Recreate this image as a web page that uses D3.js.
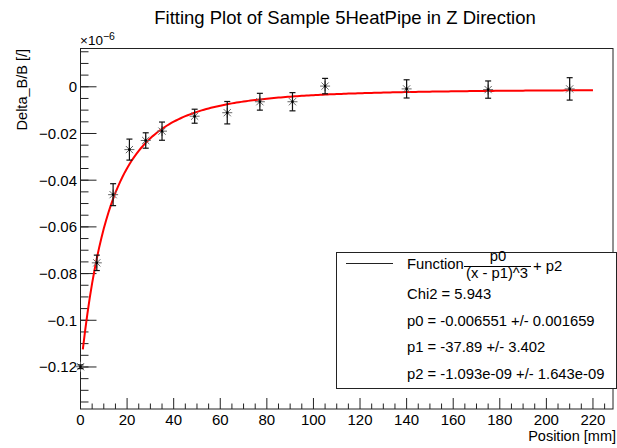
<!DOCTYPE html>
<html>
<head>
<meta charset="utf-8">
<script src="https://cdn.jsdelivr.net/npm/d3@7"></script>
<style>
  html, body { margin: 0; padding: 0; background: #fff; }
  text { font-family: "Liberation Sans", Arial, Helvetica, sans-serif; }
</style>
</head>
<body>
<div id="container"></div>
<script>
const width = 617, height = 448;

// Measurements: position (mm) and Delta_B/B (×10⁻⁶) with errors
const positions = [0, 7, 14, 21, 28, 35, 49, 63, 77, 91, 105, 140, 175, 210];
const values = [-0.1199, -0.0754, -0.0462, -0.0269, -0.0230, -0.0190, -0.0126, -0.0111,
                -0.0064, -0.0064, 0.0003, -0.0009, -0.0012, -0.0009];
const errors = [0.0008, 0.0033, 0.0047, 0.0045, 0.0033, 0.0039, 0.0030, 0.0048,
                0.0036, 0.0039, 0.0033, 0.0039, 0.0037, 0.0048];

// Fit parameters shown in the legend (raw units; plotted ×10⁶)
const p0 = -0.006551, p1 = -37.89, p2 = -1.093e-09;
const fitRange = [1, 220];
const legendLines = [
  "Chi2 = 5.943",
  "p0 = -0.006551 +/- 0.001659",
  "p1 = -37.89 +/- 3.402",
  "p2 = -1.093e-09 +/- 1.643e-09",
];

const xMajor = d3.range(0, 221, 20);
const xMinor = d3.range(0, 229, 5);
const yMajor = [-0.12, -0.1, -0.08, -0.06, -0.04, -0.02, 0];
const yMinor = d3.range(-0.135, 0.016, 0.005);

const frame = { left: 80.5, right: 613, top: 48.5, bottom: 409 };

const svg = d3.select("#container")
  .append("svg")
  .attr("width", width)
  .attr("height", height);

svg.append("rect").attr("width", width).attr("height", height).attr("fill", "#fff");

const xScale = d3.scaleLinear().domain([0, 228.6]).range([frame.left, frame.right]);
const yScale = d3.scaleLinear().domain([-0.138, 0.0164]).range([frame.bottom, frame.top]);

// Frame
svg.append("rect")
  .attr("x", frame.left).attr("y", frame.top)
  .attr("width", frame.right - frame.left)
  .attr("height", frame.bottom - frame.top)
  .attr("fill", "none")
  .attr("stroke", "#222")
  .attr("stroke-width", 1);

// X ticks (bottom only, pointing up)
xMinor.forEach(v => {
  const major = v % 20 === 0;
  svg.append("line")
    .attr("x1", xScale(v)).attr("x2", xScale(v))
    .attr("y1", frame.bottom).attr("y2", frame.bottom - (major ? 11 : 5.5))
    .attr("stroke", "#222");
});
xMajor.forEach(v => {
  svg.append("text")
    .attr("x", xScale(v)).attr("y", 425)
    .attr("text-anchor", "middle")
    .style("font-size", "15px")
    .text(v);
});

// Y ticks (left only, pointing right)
yMinor.forEach(v => {
  svg.append("line")
    .attr("x1", frame.left).attr("x2", frame.left + 8)
    .attr("y1", yScale(v)).attr("y2", yScale(v))
    .attr("stroke", "#222");
});
yMajor.forEach(v => {
  svg.append("line")
    .attr("x1", frame.left).attr("x2", frame.left + 16)
    .attr("y1", yScale(v)).attr("y2", yScale(v))
    .attr("stroke", "#222");
  svg.append("text")
    .attr("x", 77).attr("y", yScale(v) + 5.5)
    .attr("text-anchor", "end")
    .style("font-size", "15px")
    .text(v === 0 ? "0" : "\u2212" + String(Math.abs(v)));
});

// Exponent label
const expText = svg.append("text").attr("x", 80).attr("y", 45).style("font-size", "13.5px");
expText.append("tspan").text("\u00d710");
expText.append("tspan").attr("dy", -5).style("font-size", "10.5px").text("\u22126");

// Fit curve (red)
const xs = d3.range(fitRange[0], fitRange[1] + 0.01, 1);
svg.append("path")
  .datum(xs)
  .attr("d", d3.line().x(d => xScale(d)).y(d => yScale((p0 / Math.pow(d - p1, 3) + p2) * 1e6)))
  .attr("fill", "none")
  .attr("stroke", "#ff0000")
  .attr("stroke-width", 2);

// Data points: asterisk markers with error bars
positions.forEach((x, i) => {
  const cx = xScale(x), cy = yScale(values[i]);
  const yt = yScale(values[i] + errors[i]), yb = yScale(values[i] - errors[i]);
  const g = svg.append("g");
  const s = 5, d = 3.6;
  [[-s, 0, s, 0], [0, -s, 0, s], [-d, -d, d, d], [-d, d, d, -d]].forEach(a => {
    g.append("line")
      .attr("x1", cx + a[0]).attr("y1", cy + a[1])
      .attr("x2", cx + a[2]).attr("y2", cy + a[3])
      .attr("stroke", "#666").attr("stroke-width", 1);
  });
  g.append("line").attr("x1", cx).attr("x2", cx).attr("y1", yt).attr("y2", yb)
    .attr("stroke", "#111").attr("stroke-width", 1.2);
  [yt, yb].forEach(yy => {
    g.append("line").attr("x1", cx - 3).attr("x2", cx + 3).attr("y1", yy).attr("y2", yy)
      .attr("stroke", "#111").attr("stroke-width", 1.2);
  });
  g.append("circle").attr("cx", cx).attr("cy", cy).attr("r", 1.3).attr("fill", "#000");
});

// Legend box
const lg = { x: 336.5, y: 252.5, w: 280, h: 136 };
svg.append("rect")
  .attr("x", lg.x).attr("y", lg.y).attr("width", lg.w).attr("height", lg.h)
  .attr("fill", "#fff").attr("stroke", "#222").attr("stroke-width", 1);

svg.append("line")
  .attr("x1", 346).attr("x2", 393).attr("y1", 263.5).attr("y2", 263.5)
  .attr("stroke", "#222").attr("stroke-width", 1);

svg.append("text").attr("x", 407).attr("y", 269).style("font-size", "14.8px").text("Function");
svg.append("text").attr("x", 498).attr("y", 261).attr("text-anchor", "middle")
  .style("font-size", "14.8px").text("p0");
svg.append("line").attr("x1", 464).attr("x2", 531).attr("y1", 266.5).attr("y2", 266.5)
  .attr("stroke", "#000").attr("stroke-width", 1);
svg.append("text").attr("x", 497).attr("y", 278).attr("text-anchor", "middle")
  .style("font-size", "14.8px").text("(x - p1)^3");
svg.append("text").attr("x", 533).attr("y", 271).style("font-size", "14.8px").text("+ p2");

legendLines.forEach((s, i) => {
  svg.append("text")
    .attr("x", 407).attr("y", 299 + i * 26.5)
    .style("font-size", "14.8px")
    .text(s);
});

// Axis titles
svg.append("text")
  .attr("x", 616).attr("y", 441)
  .attr("text-anchor", "end")
  .style("font-size", "14.5px")
  .text("Position [mm]");

svg.append("text")
  .attr("transform", "rotate(-90)")
  .attr("x", -49).attr("y", 27)
  .attr("text-anchor", "end")
  .style("font-size", "14.5px")
  .text("Delta_B/B [/]");

// Title
svg.append("text")
  .attr("x", 345).attr("y", 24)
  .attr("text-anchor", "middle")
  .style("font-size", "18.5px")
  .text("Fitting Plot of Sample 5HeatPipe in Z Direction");
</script>
</body>
</html>
